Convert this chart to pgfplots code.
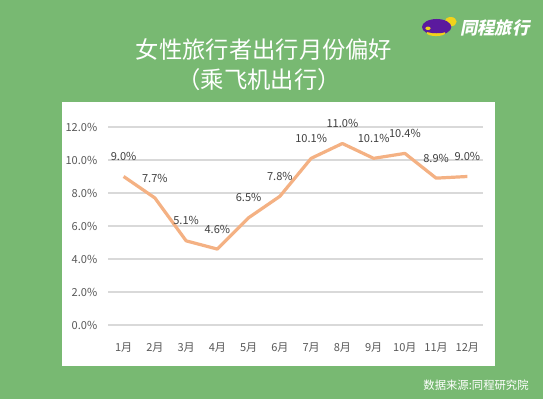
\documentclass[border=0pt]{standalone}
\usepackage{pgfplots}
\pgfplotsset{compat=1.18}
\usepackage{fontspec}
\setmainfont{Noto Sans CJK SC}
\definecolor{bg}{HTML}{78B972}
\definecolor{ln}{HTML}{F4B183}
\definecolor{grd}{HTML}{D9D9D9}
\definecolor{tk}{HTML}{595959}
\definecolor{dl}{HTML}{404040}
\definecolor{pur}{HTML}{5B1A9E}
\definecolor{yel}{HTML}{F2D21B}
\begin{document}
\begin{tikzpicture}
\fill[bg] (0,0) rectangle (407.25pt,299.25pt);
\fill[white] (46.5pt,24.75pt) rectangle (371.25pt,222.75pt);
\node[white,font=\fontsize{17.5}{20}\selectfont] at (198pt,261.75pt) {女性旅行者出行月份偏好};
\node[white,font=\fontsize{17.5}{20}\selectfont] at (194.25pt,239.25pt) {（乘飞机出行）};
% logo
\fill[yel] (338pt,283pt) ellipse (4.5pt and 3.5pt);
\fill[pur] (327.5pt,279pt) ellipse (11pt and 6pt);
\fill[yel] (327pt,274.5pt) ellipse (7pt and 2.3pt);
\fill[pur] (327.5pt,276.8pt) ellipse (9pt and 2.5pt);
\fill[yel] (321pt,278pt) ellipse (2pt and 1.3pt);
\node[white,font=\fontsize{13}{15}\selectfont\bfseries,xslant=0.2] at (372pt,278.5pt) {同程旅行};
\node[white,anchor=east,font=\fontsize{8.5}{10}\selectfont] at (400pt,10.5pt) {数据来源:同程研究院};
\begin{axis}[
  at={(81pt,55.5pt)}, anchor=south west,
  width=281.25pt, height=148.5pt, scale only axis,
  xmin=0.5, xmax=12.5, ymin=0, ymax=12,
  axis line style={draw=none},
  ymajorgrids, grid style={grd, line width=0.8pt},
  ytick={0,2,4,6,8,10,12},
  yticklabels={0.0\%,2.0\%,4.0\%,6.0\%,8.0\%,10.0\%,12.0\%},
  xtick={1,...,12},
  xticklabels={1月,2月,3月,4月,5月,6月,7月,8月,9月,10月,11月,12月},
  major tick length=0pt,
  tick label style={tk, font=\fontsize{8.3}{10}\selectfont},
  xticklabel style={anchor=center, yshift=-17pt},
  yticklabel style={anchor=east, xshift=-4.5pt},
  /pgf/number format/assume math mode=true,
  clip=false,
]
\addplot[ln, line width=2.4pt, line join=round,
  nodes near coords={\pgfmathprintnumber[fixed,fixed zerofill,precision=1]{\pgfplotspointmeta}\%},
  every node near coord/.append style={dl, font=\fontsize{8.3}{10}\selectfont, anchor=center, yshift=15pt}]
coordinates {(1,9.0) (2,7.7) (3,5.1) (4,4.6) (5,6.5) (6,7.8) (7,10.1) (8,11.0) (9,10.1) (10,10.4) (11,8.9) (12,9.0)};
\end{axis}
\end{tikzpicture}
\end{document}
